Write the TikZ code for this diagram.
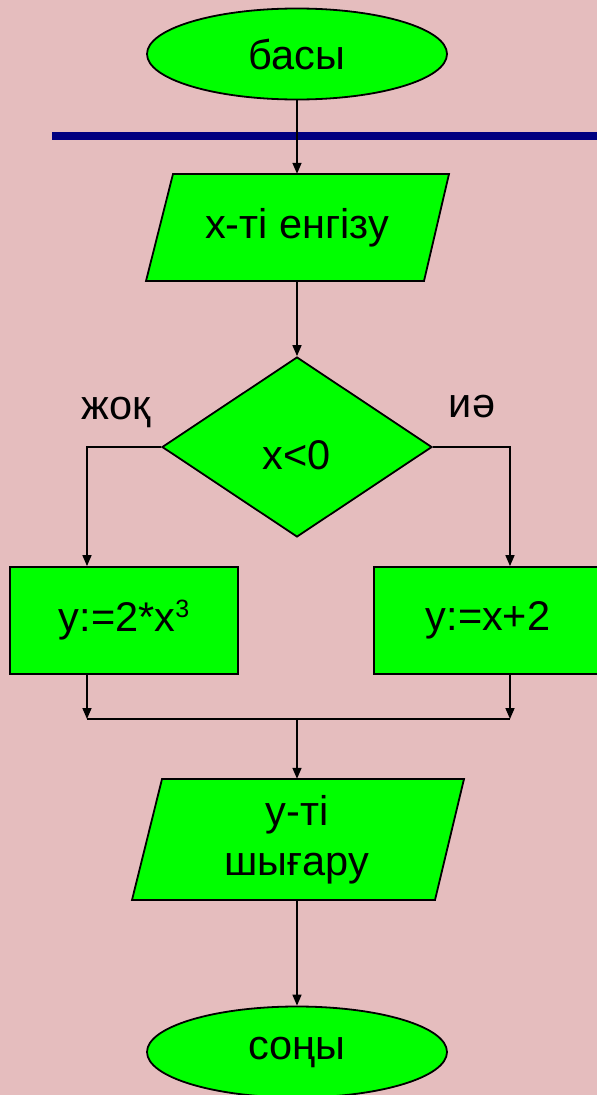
\documentclass[tikz,border=0pt]{standalone}
\usepackage{fontspec}
\setmainfont{Liberation Sans}
\usetikzlibrary{shapes.geometric,arrows.meta}
\definecolor{bgpink}{RGB}{229,189,190}
\definecolor{flowgreen}{RGB}{0,255,0}
\definecolor{barblue}{RGB}{0,0,128}
\tikzset{
  txtfont/.style={font=\fontsize{41.5}{50}\selectfont},
  base/.style={draw=black,line width=1.8pt,fill=flowgreen,inner sep=0pt,txtfont,align=center},
  term/.style={base,ellipse,minimum width=300pt,minimum height=91pt},
  procbox/.style={base,rectangle,minimum width=228pt,minimum height=107pt},
  decide/.style={base,diamond,minimum width=270pt,minimum height=180pt},
  iotext/.style={inner sep=0pt,txtfont,align=center,minimum width=10pt},
  iopoly/.style={draw=black,line width=1.8pt,fill=flowgreen,line join=miter},
  lbl/.style={inner sep=0pt,txtfont},
  conn/.style={draw=black,line width=1.6pt},
  arr/.style={conn,-{Triangle[length=11pt,width=9pt]}}
}
\newcommand{\supthree}{\raisebox{14pt}{\fontsize{25}{25}\selectfont 3}}
\begin{document}
\begin{tikzpicture}[x=1pt,y=-1pt]
\useasboundingbox (0,0) rectangle (597,1095);
\fill[bgpink] (0,0) rectangle (597,1095);
% blue bar
\fill[barblue] (52,132) rectangle (597,140);
% terminals
\node[term] (start) at (297,54) {басы};
% input parallelogram
\draw[iopoly] (173,174) -- (449,174) -- (424,281) -- (146,281) -- cycle;
\node[iotext,minimum height=107pt] (in) at (297,227.5) {х-ті енгізу};
% decision
\node[decide] (dec) at (297,447) {};
\node[lbl] (dectext) at (297,455) {x<0};
% labels
\node[lbl] (no) at (116,412) {жоқ};
\node[lbl] (yes) at (472,407) {иә};
% process boxes
\node[procbox] (lbox) at (124,620.5) {y:=2*x\supthree};
\node[procbox] (rbox) at (488,620.5) {y:=x+2};
% output parallelogram
\draw[iopoly] (162,779) -- (464,779) -- (435,900) -- (132,900) -- cycle;
\node[iotext,minimum height=121pt] (out) at (297,839.5) {у-ті\\шығару};
% end terminal
\node[term] (stop) at (297,1052) {соңы};
% merge coordinates
\coordinate (mL) at (87,719);
\coordinate (mR) at (510,719);
\coordinate (mC) at (297,719);
% connectors
\draw[arr] (start.south) -- (in.north);
\draw[arr] (in.south) -- (dec.north);
\draw[arr] (dec.west) -| ([xshift=-37pt]lbox.north);
\draw[arr] (dec.east) -| ([xshift=22pt]rbox.north);
\draw[arr] ([xshift=-37pt]lbox.south) -- (mL);
\draw[arr] ([xshift=22pt]rbox.south) -- (mR);
\draw[conn] (mL) -- (mR);
\draw[arr] (mC) -- (out.north);
\draw[arr] (out.south) -- (stop.north);
\end{tikzpicture}
\end{document}
